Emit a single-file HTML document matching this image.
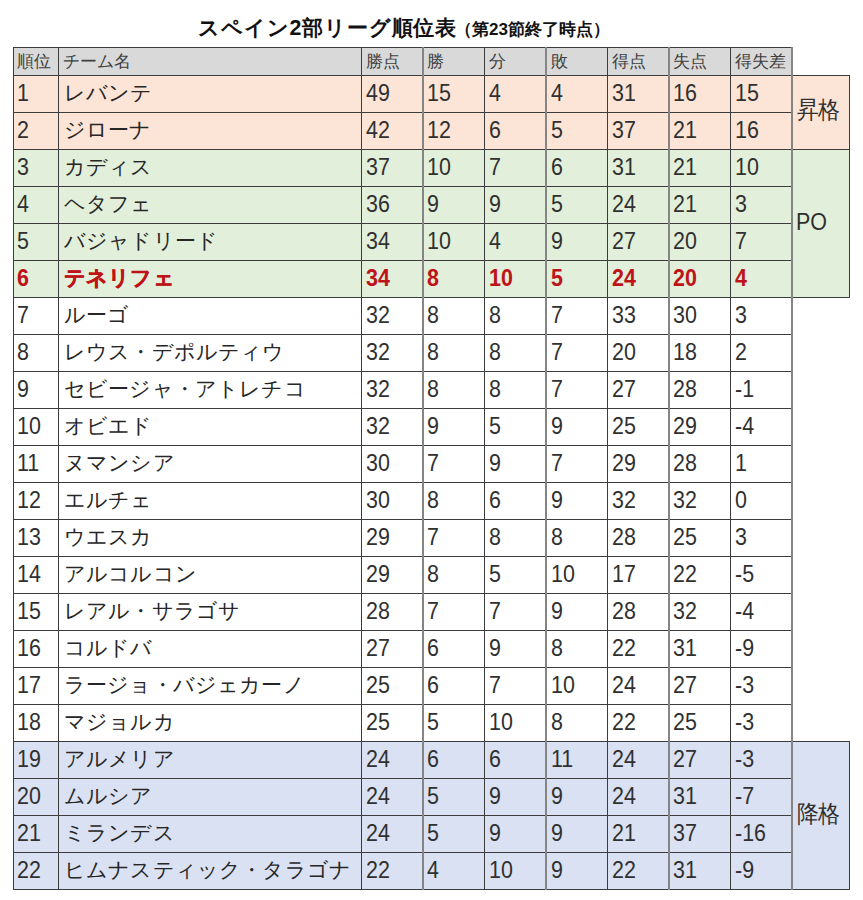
<!DOCTYPE html><html><head><meta charset="utf-8"><style>
html,body{margin:0;padding:0;background:#fff;width:863px;height:900px;overflow:hidden;position:relative;font-family:"Liberation Sans",sans-serif;color:#151515}
div{position:absolute;white-space:nowrap}
.n{font-size:22px;line-height:22px;transform:scale(0.975,1.07);transform-origin:0 18px;color:#303030}
.k{font-size:21px;line-height:21px;letter-spacing:0.16px;color:#262626}
.k.r{-webkit-text-stroke:0.5px #BE1318}
.h{font-size:16.5px;line-height:17px;color:#404040}
.r{color:#BE1318;font-weight:bold}
</style></head><body>
<div style="left:198px;top:17px;font-weight:bold;font-size:21.4px;letter-spacing:0.85px;line-height:22px;color:#111">スペイン2部リーグ順位表</div>
<div style="left:455px;top:21px;font-weight:bold;font-size:17px;line-height:17px;color:#111">（第23節終了時点）</div>
<div style="left:13px;top:47px;width:779px;height:28px;background:#D9D9D9"></div>
<div style="left:13px;top:75px;width:779px;height:37px;background:#FCE4D6"></div>
<div style="left:13px;top:112px;width:779px;height:37px;background:#FCE4D6"></div>
<div style="left:13px;top:149px;width:779px;height:37px;background:#E2EFDA"></div>
<div style="left:13px;top:186px;width:779px;height:37px;background:#E2EFDA"></div>
<div style="left:13px;top:223px;width:779px;height:37px;background:#E2EFDA"></div>
<div style="left:13px;top:260px;width:779px;height:37px;background:#E2EFDA"></div>
<div style="left:13px;top:741px;width:779px;height:37px;background:#D9E1F2"></div>
<div style="left:13px;top:778px;width:779px;height:37px;background:#D9E1F2"></div>
<div style="left:13px;top:815px;width:779px;height:37px;background:#D9E1F2"></div>
<div style="left:13px;top:852px;width:779px;height:37px;background:#D9E1F2"></div>
<div style="left:792px;top:75px;width:57px;height:74px;background:#FCE4D6"></div>
<div style="left:792px;top:149px;width:57px;height:148px;background:#E2EFDA"></div>
<div style="left:792px;top:741px;width:57px;height:148px;background:#D9E1F2"></div>
<div style="left:13px;top:47px;width:780px;height:1px;background:#3c3c3c"></div>
<div style="left:13px;top:75px;width:837px;height:1px;background:#3c3c3c"></div>
<div style="left:13px;top:112px;width:780px;height:1px;background:#3c3c3c"></div>
<div style="left:13px;top:149px;width:837px;height:1px;background:#3c3c3c"></div>
<div style="left:13px;top:186px;width:780px;height:1px;background:#3c3c3c"></div>
<div style="left:13px;top:223px;width:780px;height:1px;background:#3c3c3c"></div>
<div style="left:13px;top:260px;width:780px;height:1px;background:#3c3c3c"></div>
<div style="left:13px;top:297px;width:837px;height:1px;background:#3c3c3c"></div>
<div style="left:13px;top:334px;width:780px;height:1px;background:#3c3c3c"></div>
<div style="left:13px;top:371px;width:780px;height:1px;background:#3c3c3c"></div>
<div style="left:13px;top:408px;width:780px;height:1px;background:#3c3c3c"></div>
<div style="left:13px;top:445px;width:780px;height:1px;background:#3c3c3c"></div>
<div style="left:13px;top:482px;width:780px;height:1px;background:#3c3c3c"></div>
<div style="left:13px;top:519px;width:780px;height:1px;background:#3c3c3c"></div>
<div style="left:13px;top:556px;width:780px;height:1px;background:#3c3c3c"></div>
<div style="left:13px;top:593px;width:780px;height:1px;background:#3c3c3c"></div>
<div style="left:13px;top:630px;width:780px;height:1px;background:#3c3c3c"></div>
<div style="left:13px;top:667px;width:780px;height:1px;background:#3c3c3c"></div>
<div style="left:13px;top:704px;width:780px;height:1px;background:#3c3c3c"></div>
<div style="left:13px;top:741px;width:837px;height:1px;background:#3c3c3c"></div>
<div style="left:13px;top:778px;width:780px;height:1px;background:#3c3c3c"></div>
<div style="left:13px;top:815px;width:780px;height:1px;background:#3c3c3c"></div>
<div style="left:13px;top:852px;width:780px;height:1px;background:#3c3c3c"></div>
<div style="left:13px;top:889px;width:837px;height:1px;background:#3c3c3c"></div>
<div style="left:13px;top:47px;width:1px;height:843px;background:#3c3c3c"></div>
<div style="left:58px;top:47px;width:1px;height:843px;background:#3c3c3c"></div>
<div style="left:361px;top:47px;width:1px;height:843px;background:#3c3c3c"></div>
<div style="left:422px;top:47px;width:2px;height:843px;background:#858585"></div>
<div style="left:484px;top:47px;width:1px;height:843px;background:#3c3c3c"></div>
<div style="left:545px;top:47px;width:2px;height:843px;background:#858585"></div>
<div style="left:607px;top:47px;width:1px;height:843px;background:#3c3c3c"></div>
<div style="left:668px;top:47px;width:2px;height:843px;background:#858585"></div>
<div style="left:730px;top:47px;width:1px;height:843px;background:#3c3c3c"></div>
<div style="left:791px;top:47px;width:2px;height:843px;background:#858585"></div>
<div style="left:849px;top:75px;width:1px;height:75px;background:#3c3c3c"></div>
<div style="left:849px;top:149px;width:1px;height:149px;background:#3c3c3c"></div>
<div style="left:849px;top:741px;width:1px;height:149px;background:#3c3c3c"></div>
<div class="h" style="left:17px;top:53px">順位</div>
<div class="h" style="left:63px;top:53px">チーム名</div>
<div class="h" style="left:366px;top:53px">勝点</div>
<div class="h" style="left:427px;top:53px">勝</div>
<div class="h" style="left:489px;top:53px">分</div>
<div class="h" style="left:551px;top:53px">敗</div>
<div class="h" style="left:612px;top:53px">得点</div>
<div class="h" style="left:673px;top:53px">失点</div>
<div class="h" style="left:735px;top:53px">得失差</div>
<div class="n" style="left:17px;top:83px">1</div>
<div class="k" style="left:64px;top:82px">レバンテ</div>
<div class="n" style="left:366px;top:83px">49</div>
<div class="n" style="left:427px;top:83px">15</div>
<div class="n" style="left:489px;top:83px">4</div>
<div class="n" style="left:551px;top:83px">4</div>
<div class="n" style="left:612px;top:83px">31</div>
<div class="n" style="left:673px;top:83px">16</div>
<div class="n" style="left:735px;top:83px">15</div>
<div class="n" style="left:17px;top:120px">2</div>
<div class="k" style="left:64px;top:119px">ジローナ</div>
<div class="n" style="left:366px;top:120px">42</div>
<div class="n" style="left:427px;top:120px">12</div>
<div class="n" style="left:489px;top:120px">6</div>
<div class="n" style="left:551px;top:120px">5</div>
<div class="n" style="left:612px;top:120px">37</div>
<div class="n" style="left:673px;top:120px">21</div>
<div class="n" style="left:735px;top:120px">16</div>
<div class="n" style="left:17px;top:157px">3</div>
<div class="k" style="left:64px;top:156px">カディス</div>
<div class="n" style="left:366px;top:157px">37</div>
<div class="n" style="left:427px;top:157px">10</div>
<div class="n" style="left:489px;top:157px">7</div>
<div class="n" style="left:551px;top:157px">6</div>
<div class="n" style="left:612px;top:157px">31</div>
<div class="n" style="left:673px;top:157px">21</div>
<div class="n" style="left:735px;top:157px">10</div>
<div class="n" style="left:17px;top:194px">4</div>
<div class="k" style="left:64px;top:193px">ヘタフェ</div>
<div class="n" style="left:366px;top:194px">36</div>
<div class="n" style="left:427px;top:194px">9</div>
<div class="n" style="left:489px;top:194px">9</div>
<div class="n" style="left:551px;top:194px">5</div>
<div class="n" style="left:612px;top:194px">24</div>
<div class="n" style="left:673px;top:194px">21</div>
<div class="n" style="left:735px;top:194px">3</div>
<div class="n" style="left:17px;top:231px">5</div>
<div class="k" style="left:64px;top:230px">バジャドリード</div>
<div class="n" style="left:366px;top:231px">34</div>
<div class="n" style="left:427px;top:231px">10</div>
<div class="n" style="left:489px;top:231px">4</div>
<div class="n" style="left:551px;top:231px">9</div>
<div class="n" style="left:612px;top:231px">27</div>
<div class="n" style="left:673px;top:231px">20</div>
<div class="n" style="left:735px;top:231px">7</div>
<div class="n r" style="left:17px;top:268px">6</div>
<div class="k r" style="left:64px;top:267px">テネリフェ</div>
<div class="n r" style="left:366px;top:268px">34</div>
<div class="n r" style="left:427px;top:268px">8</div>
<div class="n r" style="left:489px;top:268px">10</div>
<div class="n r" style="left:551px;top:268px">5</div>
<div class="n r" style="left:612px;top:268px">24</div>
<div class="n r" style="left:673px;top:268px">20</div>
<div class="n r" style="left:735px;top:268px">4</div>
<div class="n" style="left:17px;top:305px">7</div>
<div class="k" style="left:64px;top:304px">ルーゴ</div>
<div class="n" style="left:366px;top:305px">32</div>
<div class="n" style="left:427px;top:305px">8</div>
<div class="n" style="left:489px;top:305px">8</div>
<div class="n" style="left:551px;top:305px">7</div>
<div class="n" style="left:612px;top:305px">33</div>
<div class="n" style="left:673px;top:305px">30</div>
<div class="n" style="left:735px;top:305px">3</div>
<div class="n" style="left:17px;top:342px">8</div>
<div class="k" style="left:64px;top:341px">レウス・デポルティウ</div>
<div class="n" style="left:366px;top:342px">32</div>
<div class="n" style="left:427px;top:342px">8</div>
<div class="n" style="left:489px;top:342px">8</div>
<div class="n" style="left:551px;top:342px">7</div>
<div class="n" style="left:612px;top:342px">20</div>
<div class="n" style="left:673px;top:342px">18</div>
<div class="n" style="left:735px;top:342px">2</div>
<div class="n" style="left:17px;top:379px">9</div>
<div class="k" style="left:64px;top:378px">セビージャ・アトレチコ</div>
<div class="n" style="left:366px;top:379px">32</div>
<div class="n" style="left:427px;top:379px">8</div>
<div class="n" style="left:489px;top:379px">8</div>
<div class="n" style="left:551px;top:379px">7</div>
<div class="n" style="left:612px;top:379px">27</div>
<div class="n" style="left:673px;top:379px">28</div>
<div class="n" style="left:735px;top:379px">-1</div>
<div class="n" style="left:17px;top:416px">10</div>
<div class="k" style="left:64px;top:415px">オビエド</div>
<div class="n" style="left:366px;top:416px">32</div>
<div class="n" style="left:427px;top:416px">9</div>
<div class="n" style="left:489px;top:416px">5</div>
<div class="n" style="left:551px;top:416px">9</div>
<div class="n" style="left:612px;top:416px">25</div>
<div class="n" style="left:673px;top:416px">29</div>
<div class="n" style="left:735px;top:416px">-4</div>
<div class="n" style="left:17px;top:453px">11</div>
<div class="k" style="left:64px;top:452px">ヌマンシア</div>
<div class="n" style="left:366px;top:453px">30</div>
<div class="n" style="left:427px;top:453px">7</div>
<div class="n" style="left:489px;top:453px">9</div>
<div class="n" style="left:551px;top:453px">7</div>
<div class="n" style="left:612px;top:453px">29</div>
<div class="n" style="left:673px;top:453px">28</div>
<div class="n" style="left:735px;top:453px">1</div>
<div class="n" style="left:17px;top:490px">12</div>
<div class="k" style="left:64px;top:489px">エルチェ</div>
<div class="n" style="left:366px;top:490px">30</div>
<div class="n" style="left:427px;top:490px">8</div>
<div class="n" style="left:489px;top:490px">6</div>
<div class="n" style="left:551px;top:490px">9</div>
<div class="n" style="left:612px;top:490px">32</div>
<div class="n" style="left:673px;top:490px">32</div>
<div class="n" style="left:735px;top:490px">0</div>
<div class="n" style="left:17px;top:527px">13</div>
<div class="k" style="left:64px;top:526px">ウエスカ</div>
<div class="n" style="left:366px;top:527px">29</div>
<div class="n" style="left:427px;top:527px">7</div>
<div class="n" style="left:489px;top:527px">8</div>
<div class="n" style="left:551px;top:527px">8</div>
<div class="n" style="left:612px;top:527px">28</div>
<div class="n" style="left:673px;top:527px">25</div>
<div class="n" style="left:735px;top:527px">3</div>
<div class="n" style="left:17px;top:564px">14</div>
<div class="k" style="left:64px;top:563px">アルコルコン</div>
<div class="n" style="left:366px;top:564px">29</div>
<div class="n" style="left:427px;top:564px">8</div>
<div class="n" style="left:489px;top:564px">5</div>
<div class="n" style="left:551px;top:564px">10</div>
<div class="n" style="left:612px;top:564px">17</div>
<div class="n" style="left:673px;top:564px">22</div>
<div class="n" style="left:735px;top:564px">-5</div>
<div class="n" style="left:17px;top:601px">15</div>
<div class="k" style="left:64px;top:600px">レアル・サラゴサ</div>
<div class="n" style="left:366px;top:601px">28</div>
<div class="n" style="left:427px;top:601px">7</div>
<div class="n" style="left:489px;top:601px">7</div>
<div class="n" style="left:551px;top:601px">9</div>
<div class="n" style="left:612px;top:601px">28</div>
<div class="n" style="left:673px;top:601px">32</div>
<div class="n" style="left:735px;top:601px">-4</div>
<div class="n" style="left:17px;top:638px">16</div>
<div class="k" style="left:64px;top:637px">コルドバ</div>
<div class="n" style="left:366px;top:638px">27</div>
<div class="n" style="left:427px;top:638px">6</div>
<div class="n" style="left:489px;top:638px">9</div>
<div class="n" style="left:551px;top:638px">8</div>
<div class="n" style="left:612px;top:638px">22</div>
<div class="n" style="left:673px;top:638px">31</div>
<div class="n" style="left:735px;top:638px">-9</div>
<div class="n" style="left:17px;top:675px">17</div>
<div class="k" style="left:64px;top:674px">ラージョ・バジェカーノ</div>
<div class="n" style="left:366px;top:675px">25</div>
<div class="n" style="left:427px;top:675px">6</div>
<div class="n" style="left:489px;top:675px">7</div>
<div class="n" style="left:551px;top:675px">10</div>
<div class="n" style="left:612px;top:675px">24</div>
<div class="n" style="left:673px;top:675px">27</div>
<div class="n" style="left:735px;top:675px">-3</div>
<div class="n" style="left:17px;top:712px">18</div>
<div class="k" style="left:64px;top:711px">マジョルカ</div>
<div class="n" style="left:366px;top:712px">25</div>
<div class="n" style="left:427px;top:712px">5</div>
<div class="n" style="left:489px;top:712px">10</div>
<div class="n" style="left:551px;top:712px">8</div>
<div class="n" style="left:612px;top:712px">22</div>
<div class="n" style="left:673px;top:712px">25</div>
<div class="n" style="left:735px;top:712px">-3</div>
<div class="n" style="left:17px;top:749px">19</div>
<div class="k" style="left:64px;top:748px">アルメリア</div>
<div class="n" style="left:366px;top:749px">24</div>
<div class="n" style="left:427px;top:749px">6</div>
<div class="n" style="left:489px;top:749px">6</div>
<div class="n" style="left:551px;top:749px">11</div>
<div class="n" style="left:612px;top:749px">24</div>
<div class="n" style="left:673px;top:749px">27</div>
<div class="n" style="left:735px;top:749px">-3</div>
<div class="n" style="left:17px;top:786px">20</div>
<div class="k" style="left:64px;top:785px">ムルシア</div>
<div class="n" style="left:366px;top:786px">24</div>
<div class="n" style="left:427px;top:786px">5</div>
<div class="n" style="left:489px;top:786px">9</div>
<div class="n" style="left:551px;top:786px">9</div>
<div class="n" style="left:612px;top:786px">24</div>
<div class="n" style="left:673px;top:786px">31</div>
<div class="n" style="left:735px;top:786px">-7</div>
<div class="n" style="left:17px;top:823px">21</div>
<div class="k" style="left:64px;top:822px">ミランデス</div>
<div class="n" style="left:366px;top:823px">24</div>
<div class="n" style="left:427px;top:823px">5</div>
<div class="n" style="left:489px;top:823px">9</div>
<div class="n" style="left:551px;top:823px">9</div>
<div class="n" style="left:612px;top:823px">21</div>
<div class="n" style="left:673px;top:823px">37</div>
<div class="n" style="left:735px;top:823px">-16</div>
<div class="n" style="left:17px;top:860px">22</div>
<div class="k" style="left:64px;top:859px">ヒムナスティック・タラゴナ</div>
<div class="n" style="left:366px;top:860px">22</div>
<div class="n" style="left:427px;top:860px">4</div>
<div class="n" style="left:489px;top:860px">10</div>
<div class="n" style="left:551px;top:860px">9</div>
<div class="n" style="left:612px;top:860px">22</div>
<div class="n" style="left:673px;top:860px">31</div>
<div class="n" style="left:735px;top:860px">-9</div>
<div class="n" style="left:797px;top:100px">昇格</div>
<div class="n" style="left:796px;top:212px">PO</div>
<div class="n" style="left:797px;top:804px">降格</div>
</body></html>
